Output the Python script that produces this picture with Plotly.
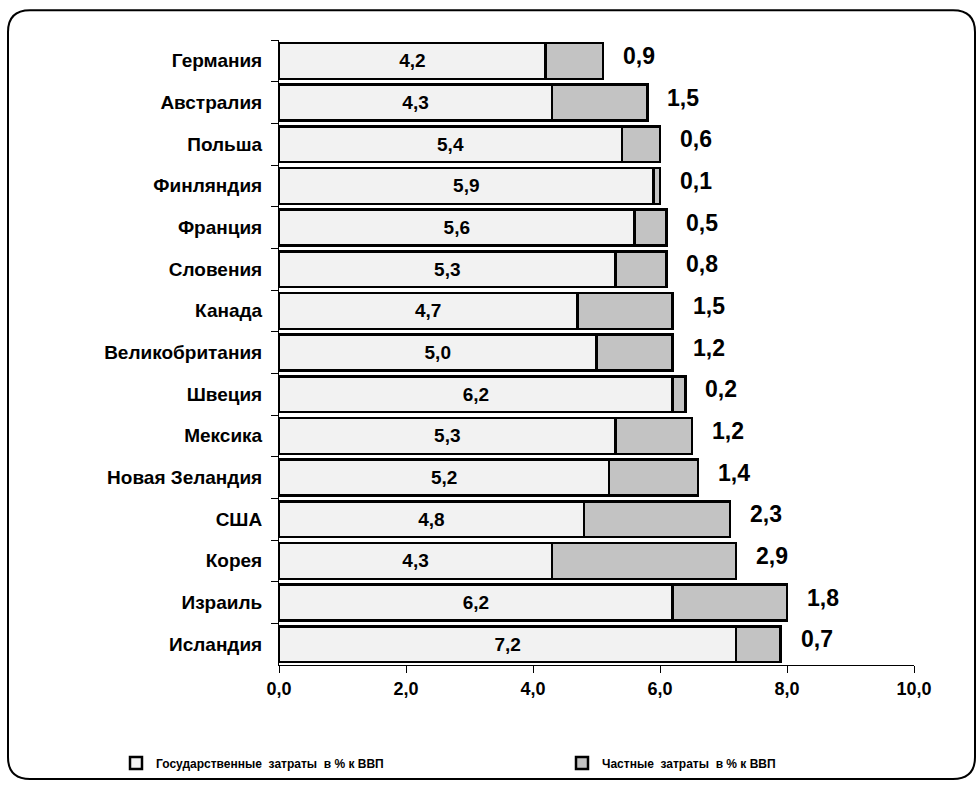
import plotly.graph_objects as go

# Education spending, % of GDP (public and private), by country
countries = ["Германия", "Австралия", "Польша", "Финляндия", "Франция",
             "Словения", "Канада", "Великобритания", "Швеция", "Мексика",
             "Новая Зеландия", "США", "Корея", "Израиль", "Исландия"]
public_spend = [4.2, 4.3, 5.4, 5.9, 5.6, 5.3, 4.7, 5.0, 6.2, 5.3, 5.2, 4.8, 4.3, 6.2, 7.2]
private_spend = [0.9, 1.5, 0.6, 0.1, 0.5, 0.8, 1.5, 1.2, 0.2, 1.2, 1.4, 2.3, 2.9, 1.8, 0.7]
x_ticks = [0, 2, 4, 6, 8, 10]

public_name = "Государственные\u00a0\u00a0затраты\u00a0\u00a0в % к ВВП"
private_name = "Частные\u00a0\u00a0затраты\u00a0\u00a0в % к ВВП"

W, H = 980, 790
ML, MR, MT, MB = 279, 66, 40, 119
PW, PH = W - ML - MR, H - MT - MB

FONT = "Liberation Sans, Arial, sans-serif"


def px(x):
    return (x - ML) / PW


def py(y):
    return (H - MB - y) / PH


fig = go.Figure()
fig.add_trace(go.Bar(
    y=countries, x=public_spend, orientation="h", name=public_name,
    marker=dict(color="#f2f2f2", line=dict(color="#000000", width=2.5)),
    texttemplate="%{x:.1f}", textposition="inside", insidetextanchor="middle",
    textfont=dict(family=FONT, size=19, color="#000000", weight="bold"),
    constraintext="none", legend="legend",
))
fig.add_trace(go.Bar(
    y=countries, x=private_spend, orientation="h", name=private_name,
    marker=dict(color="#c3c3c3", line=dict(color="#000000", width=2.5)),
    legend="legend2",
))

# value labels for the private share, just past the end of each bar
for c, a, b in zip(countries, public_spend, private_spend):
    fig.add_annotation(
        x=a + b, y=c, xref="x", yref="y", text=f"{b:.1f}".replace(".", ","),
        showarrow=False, xanchor="left", yanchor="middle", xshift=18, yshift=5,
        font=dict(family=FONT, size=23, color="#000000", weight="bold"),
    )

# rounded frame around the whole chart
x0, x1, y0, y1, r = 8, 975, 10, 786, 22
path = (f"M {px(x0 + r)},{py(y0)} L {px(x1 - r)},{py(y0)} "
        f"Q {px(x1)},{py(y0)} {px(x1)},{py(y0 + r)} "
        f"L {px(x1)},{py(y1 - r)} Q {px(x1)},{py(y1)} {px(x1 - r)},{py(y1)} "
        f"L {px(x0 + r)},{py(y1)} Q {px(x0)},{py(y1)} {px(x0)},{py(y1 - r)} "
        f"L {px(x0)},{py(y0 + r)} Q {px(x0)},{py(y0)} {px(x0 + r)},{py(y0)} Z")
fig.add_shape(type="path", path=path, xref="paper", yref="paper",
              line=dict(color="#000000", width=2), layer="above")

legend_style = dict(
    orientation="h", xanchor="left", y=py(770), yanchor="middle",
    font=dict(family=FONT, size=12, color="#000000", weight="bold"),
    itemwidth=30, bgcolor="rgba(0,0,0,0)",
)

fig.update_layout(
    width=W, height=H,
    margin=dict(l=ML, r=MR, t=MT, b=MB, pad=0),
    paper_bgcolor="#ffffff", plot_bgcolor="#ffffff",
    barmode="stack", bargap=0.14,
    separators=", ",
    showlegend=True,
    legend=dict(x=px(116), **legend_style),
    legend2=dict(x=px(562), **legend_style),
    xaxis=dict(
        range=[0, 10], tickvals=x_ticks, tickformat=".1f",
        showgrid=False, zeroline=False, showline=True, linecolor="#000000", linewidth=1,
        ticks="outside", ticklen=7, tickcolor="#000000",
        tickfont=dict(family=FONT, size=18, color="#000000", weight="bold"),
        fixedrange=True,
    ),
    yaxis=dict(
        autorange="reversed", showgrid=False, zeroline=False,
        showline=True, linecolor="#000000", linewidth=1,
        ticks="outside", tickson="boundaries", ticklen=7, tickcolor="#000000",
        ticklabelstandoff=12,
        tickfont=dict(family=FONT, size=19, color="#000000", weight="bold"),
        fixedrange=True,
    ),
)

fig.write_html("out.html")
